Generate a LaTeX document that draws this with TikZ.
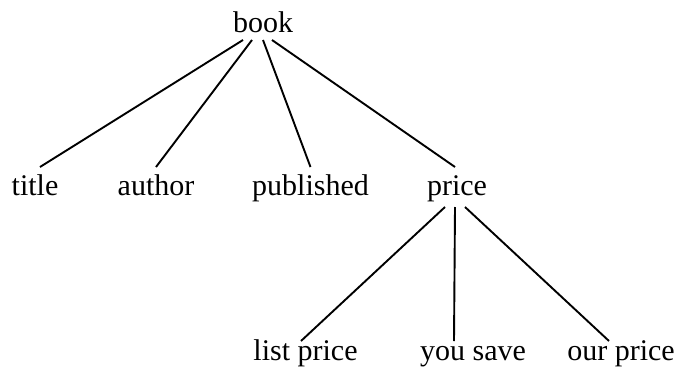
\documentclass[tikz,border=0pt]{standalone}
\usepackage{fontspec}
\setmainfont{Liberation Serif}
\usetikzlibrary{positioning}

\tikzset{
        word/.style={anchor=base, inner sep=0pt, font=\fontsize{30bp}{36bp}\selectfont},
        branch/.style={draw, line width=1.9bp}
}

\begin{document}
\begin{tikzpicture}[x=1bp, y=1bp]
        \useasboundingbox (0,0) rectangle (681,377);

        \node[word] (book) at (263,345) {book};
        \node[word] (title) at (35,182) {title};
        \node[word] (author) at (156,182) {author};
        \node[word] (published) at (310.5,182) {published};
        \node[word] (price) at (457,182) {price};
        \node[word] (list price) at (305.5,17) {list price};
        \node[word] (you save) at (473,17) {you save};
        \node[word] (our price) at (621,17) {our price};

        \draw[branch] ([shift={(-20,-8)}]book.base) -- ([shift={(5,28)}]title.base);
        \draw[branch] ([shift={(-11,-8)}]book.base) -- ([shift={(0,28)}]author.base);
        \draw[branch] ([shift={(0,-8)}]book.base) -- ([shift={(0,28)}]published.base);
        \draw[branch] ([shift={(9,-8)}]book.base) -- ([shift={(-2,28)}]price.base);

        \draw[branch] ([shift={(-12,-12)}]price.base) -- ([shift={(-4.5,19)}]list price.base);
        \draw[branch] ([shift={(-2,-12)}]price.base) -- ([shift={(-19,19)}]you save.base);
        \draw[branch] ([shift={(8,-12)}]price.base) -- ([shift={(-12,19)}]our price.base);
\end{tikzpicture}
\end{document}
